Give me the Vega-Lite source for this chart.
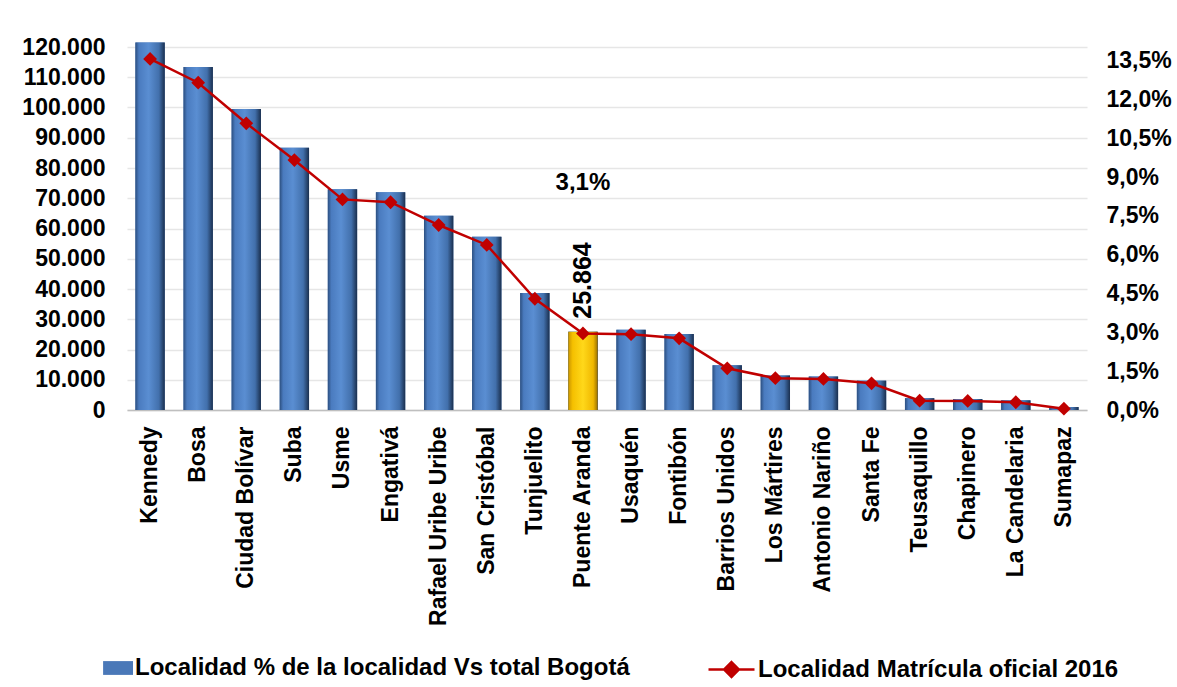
{
  "$schema": "https://vega.github.io/schema/vega-lite/v6.json",
  "autosize": "none",
  "padding": {"left": 127, "top": 47, "right": 90, "bottom": 277},
  "width": 960,
  "height": 363,
  "background": "white",
  "config": {
    "font": "Liberation Sans",
    "view": {"stroke": null},
    "locale": {"number": {"decimal": ",", "thousands": ".", "grouping": [3], "currency": ["$", ""]}},
    "axis": {"labelFont": "Liberation Sans", "labelFontSize": 23, "labelFontWeight": "bold", "labelColor": "#000000", "title": null, "ticks": false},
    "legend": {"orient": "none", "direction": "horizontal", "labelFont": "Liberation Sans", "labelFontSize": 24, "labelFontWeight": "bold", "labelColor": "#000000", "labelLimit": 700, "title": null, "padding": 0, "labelOffset": 2}
  },
  "data": {"values": [
    {"Localidad": "Kennedy", "matricula": 121500, "pct": 0.1357},
    {"Localidad": "Bosa", "matricula": 113400, "pct": 0.1265},
    {"Localidad": "Ciudad Bolívar", "matricula": 99500, "pct": 0.1108},
    {"Localidad": "Suba", "matricula": 86700, "pct": 0.0966},
    {"Localidad": "Usme", "matricula": 73000, "pct": 0.0814},
    {"Localidad": "Engativá", "matricula": 72000, "pct": 0.0803},
    {"Localidad": "Rafael Uribe Uribe", "matricula": 64200, "pct": 0.0715},
    {"Localidad": "San Cristóbal", "matricula": 57300, "pct": 0.0638},
    {"Localidad": "Tunjuelito", "matricula": 38700, "pct": 0.043},
    {"Localidad": "Puente Aranda", "matricula": 25864, "pct": 0.0296, "pct_etiqueta": 0.031},
    {"Localidad": "Usaquén", "matricula": 26500, "pct": 0.0293},
    {"Localidad": "Fontibón", "matricula": 25100, "pct": 0.0277},
    {"Localidad": "Barrios Unidos", "matricula": 14800, "pct": 0.0161},
    {"Localidad": "Los Mártires", "matricula": 11400, "pct": 0.0123},
    {"Localidad": "Antonio Nariño", "matricula": 11100, "pct": 0.012},
    {"Localidad": "Santa Fe", "matricula": 9700, "pct": 0.0103},
    {"Localidad": "Teusaquillo", "matricula": 3900, "pct": 0.0036},
    {"Localidad": "Chapinero", "matricula": 3600, "pct": 0.0035},
    {"Localidad": "La Candelaria", "matricula": 3200, "pct": 0.003},
    {"Localidad": "Sumapaz", "matricula": 1000, "pct": 0.0005}
  ]},
  "encoding": {
    "x": {
      "field": "Localidad", "type": "nominal", "sort": null,
      "scale": {"paddingInner": 0.39, "paddingOuter": 0.175},
      "axis": {"labelAngle": 270, "labelPadding": 16, "domainColor": "#bfbfbf", "domainWidth": 1.5, "labelLimit": 300}
    }
  },
  "layer": [
    {
      "encoding": {
        "y": {
          "field": "matricula", "type": "quantitative",
          "scale": {"domain": [0, 120000], "nice": false},
          "axis": {"orient": "left", "values": [0, 10000, 20000, 30000, 40000, 50000, 60000, 70000, 80000, 90000, 100000, 110000, 120000], "format": ",d", "grid": true, "gridColor": "#e6e6e6", "gridWidth": 1.5, "domain": false, "labelPadding": 22}
        }
      },
      "layer": [
        {
          "mark": {"type": "bar"},
          "encoding": {
            "fill": {"datum": "Localidad % de la localidad Vs total Bogotá", "scale": {"range": ["#4a78b8"]},
              "legend": {"symbolType": "M-0.3,-0.3H1V0.3H-0.3Z", "symbolSize": 2116, "symbolStrokeWidth": 0, "legendX": -40, "legendY": 598}}
          }
        },
        {
          "mark": {"type": "bar", "color": {"gradient": "linear", "x1": 0, "x2": 1, "y1": 0, "y2": 0,
            "stops": [{"offset": 0, "color": "#2c4f80"}, {"offset": 0.12, "color": "#4a7bbf"}, {"offset": 0.45, "color": "#5a8ed2"}, {"offset": 0.8, "color": "#4270ac"}, {"offset": 1, "color": "#1a2f4e"}]}}
        },
        {
          "transform": [{"filter": "datum.Localidad === 'Puente Aranda'"}],
          "mark": {"type": "bar", "color": {"gradient": "linear", "x1": 0, "x2": 1, "y1": 0, "y2": 0,
            "stops": [{"offset": 0, "color": "#c99400"}, {"offset": 0.15, "color": "#f5c000"}, {"offset": 0.5, "color": "#ffd81a"}, {"offset": 0.85, "color": "#f0b800"}, {"offset": 1, "color": "#9a7000"}]}}
        },
        {
          "transform": [{"filter": "datum.Localidad === 'Puente Aranda'"}],
          "mark": {"type": "text", "angle": 270, "align": "left", "baseline": "middle", "dx": 13, "fontSize": 25, "fontWeight": "bold", "color": "#000000"},
          "encoding": {"text": {"field": "matricula", "type": "quantitative", "format": ",d"}}
        }
      ]
    },
    {
      "encoding": {
        "y": {
          "field": "pct", "type": "quantitative",
          "scale": {"domain": [0, 0.1403], "nice": false},
          "axis": {"orient": "right", "values": [0, 0.015, 0.03, 0.045, 0.06, 0.075, 0.09, 0.105, 0.12, 0.135], "format": ".1%", "grid": false, "domain": false, "labelPadding": 19}
        }
      },
      "layer": [
        {
          "mark": {"type": "line", "strokeWidth": 2.5},
          "encoding": {
            "stroke": {"datum": "Localidad Matrícula oficial 2016", "scale": {"range": ["#c00000"]},
              "legend": {"symbolType": "M-1,0H1M0,-0.32L0.32,0L0,0.32L-0.32,0Z", "symbolSize": 2116, "symbolStrokeWidth": 2.5, "symbolFillColor": "#c00000", "legendX": 580, "legendY": 598}}
          }
        },
        {
          "mark": {"type": "point", "shape": "diamond", "filled": true, "size": 190, "color": "#c00000", "opacity": 1}
        },
        {
          "transform": [{"filter": "datum.Localidad === 'Puente Aranda'"}],
          "mark": {"type": "text", "align": "center", "baseline": "middle", "dy": -150, "fontSize": 24, "fontWeight": "bold", "color": "#000000"},
          "encoding": {"text": {"field": "pct_etiqueta", "type": "quantitative", "format": ".1%"}}
        }
      ]
    }
  ],
  "resolve": {"scale": {"y": "independent", "fill": "independent", "stroke": "independent"}}
}
